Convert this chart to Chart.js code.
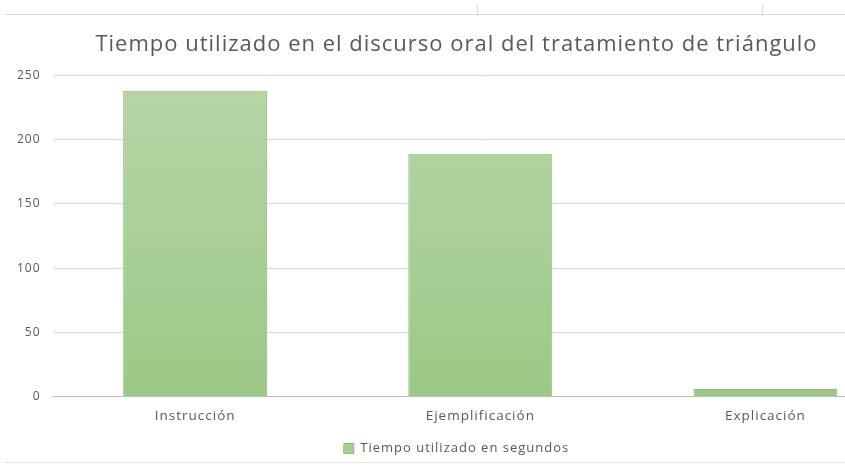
<!DOCTYPE html>
<html>
<head>
<meta charset="utf-8">
<script src="https://cdn.jsdelivr.net/npm/chart.js@4"></script>
<style>
    html, body { margin: 0; padding: 0; background: #fff; overflow: hidden; width: 845px; height: 473px; }
    #wrap { position: absolute; left: 0; top: 0; width: 920px; height: 473px; }
    #topLine { position: absolute; left: 5px; top: 14px; width: 840px; height: 1px; background: #d9d9d9; }
    .tick { position: absolute; top: 4px; width: 1px; height: 10px; background: #d9d9d9; }
    #bottomLine { position: absolute; left: 5px; top: 462px; width: 840px; height: 1px; background: #e6e6e6; }
</style>
</head>
<body>
<div id="topLine"></div>
<div class="tick" style="left:477px"></div>
<div class="tick" style="left:762px"></div>
<div id="bottomLine"></div>
<div id="wrap"><canvas id="chart" width="920" height="473"></canvas></div>
<script>
// data
var categories = ["Instrucción", "Ejemplificación", "Explicación"];
var seriesName = "Tiempo utilizado en segundos";
var tiempo = [238, 189, 6];
var yTicks = [0, 50, 100, 150, 200, 250];

var textColor = "#595959";
var fontFamily = "'Open Sans', 'Liberation Sans', sans-serif";

function barGradient(context) {
    var chart = context.chart;
    var area = chart.chartArea;
    if (!area) return "#a9cf95";
    var g = chart.ctx.createLinearGradient(0, area.top, 0, area.bottom);
    g.addColorStop(0, "#b7d6a7");
    g.addColorStop(1, "#9cc886");
    return g;
}

// the original font is wider than Open Sans, so space the letters a bit
var spacingPlugin = {
    id: "spacing",
    beforeUpdate: function(chart) { chart.ctx.letterSpacing = "1px"; },
    beforeDraw: function(chart) { chart.ctx.letterSpacing = "1px"; }
};

var ctx = document.getElementById("chart").getContext("2d");
new Chart(ctx, {
    type: "bar",
    data: {
        labels: categories,
        datasets: [{
            label: seriesName,
            data: tiempo,
            backgroundColor: barGradient,
            borderColor: "#8dbf76",
            borderWidth: 1,
            categoryPercentage: 1,
            barPercentage: 0.505
        }]
    },
    plugins: [spacingPlugin],
    options: {
        responsive: false,
        animation: false,
        layout: { padding: { left: 5, right: 12, top: 32, bottom: 8 } },
        plugins: {
            title: {
                display: true,
                text: "Tiempo utilizado en el discurso oral del tratamiento de triángulo",
                color: textColor,
                font: { family: fontFamily, size: 22, weight: "normal" },
                padding: { top: 0, bottom: 17 }
            },
            legend: {
                position: "bottom",
                labels: {
                    color: textColor,
                    font: { family: fontFamily, size: 13 },
                    boxWidth: 10,
                    boxHeight: 10,
                    padding: 15,
                    generateLabels: function(chart) {
                        return [{
                            text: seriesName,
                            fillStyle: "#a9cf95",
                            strokeStyle: "#8dbf76",
                            lineWidth: 1,
                            fontColor: textColor,
                            datasetIndex: 0
                        }];
                    }
                }
            },
            tooltip: { enabled: false }
        },
        scales: {
            x: {
                grid: { display: false },
                border: { color: "#bfbfbf" },
                ticks: { color: textColor, font: { family: fontFamily, size: 13.5 }, padding: 3 }
            },
            y: {
                min: 0,
                max: 250,
                afterBuildTicks: function(axis) {
                    axis.ticks = yTicks.map(function(v) { return { value: v }; });
                },
                grid: { color: "#d9d9d9", drawTicks: false },
                border: { display: false },
                ticks: { color: textColor, font: { family: fontFamily, size: 12 }, padding: 12 }
            }
        }
    }
});
</script>
</body>
</html>
